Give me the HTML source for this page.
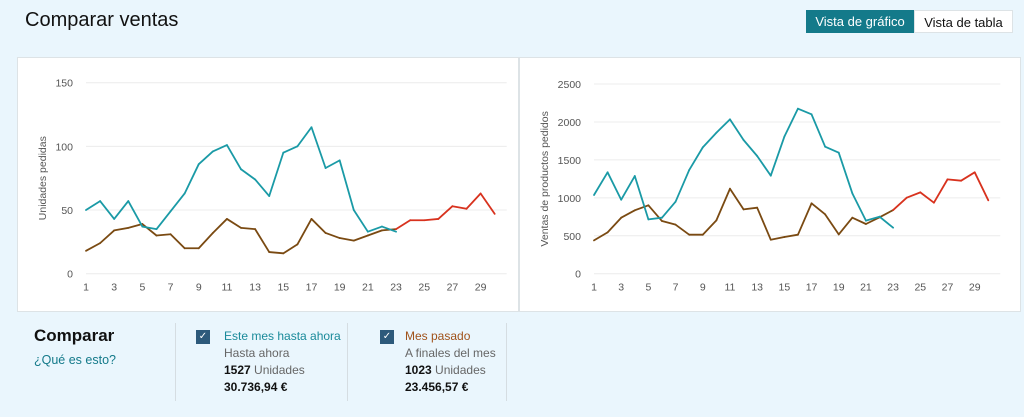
<!DOCTYPE html>
<html><head><meta charset="utf-8"><style>
body{margin:0;width:1024px;height:417px;background:#eaf6fd;font-family:"Liberation Sans",sans-serif;position:relative;overflow:hidden}
.abs{position:absolute}
.btn{position:absolute;top:10px;height:23px;line-height:23px;font-size:13px;text-align:center;box-sizing:border-box}
.panel{position:absolute;top:57px;height:255px;background:#fff;border:1px solid #dde3e6;box-sizing:border-box}
.div{position:absolute;top:323px;height:78px;width:1px;background:#d5dde2}
.cb{position:absolute;width:14px;height:14px;background:#2d5a7b;color:#fff;font-size:10px;line-height:14px;text-align:center}
.t{position:absolute;font-size:12px;color:#666}
.b{color:#111;font-weight:bold}
</style></head><body>
<div class="abs" style="left:25px;top:9px;font-size:20px;color:#111">Comparar ventas</div>
<div class="btn" style="left:806px;width:108px;background:#147a8a;color:#fff">Vista de gráfico</div>
<div class="btn" style="left:914px;width:99px;background:#fff;color:#111;border:1px solid #dde3e6">Vista de tabla</div>
<div class="panel" style="left:17px;width:502px"></div>
<div class="panel" style="left:519px;width:502px"></div>
<svg class="abs" style="left:0;top:0" width="1024" height="417" id="svg"></svg>

<div class="abs" style="left:34px;top:326px;font-size:17px;font-weight:bold;color:#111">Comparar</div>
<div class="abs" style="left:34px;top:353px;font-size:12.5px;color:#147a8a">¿Qué es esto?</div>
<div class="div" style="left:175px"></div>
<div class="div" style="left:347px"></div>
<div class="div" style="left:506px"></div>
<div class="cb" style="left:196px;top:330px">✓</div>
<div class="t" style="left:224px;top:329px;color:#1a8a9a">Este mes hasta ahora</div>
<div class="t" style="left:224px;top:346px">Hasta ahora</div>
<div class="t" style="left:224px;top:363px"><span class="b">1527</span> Unidades</div>
<div class="t b" style="left:224px;top:380px">30.736,94 €</div>
<div class="cb" style="left:380px;top:330px">✓</div>
<div class="t" style="left:405px;top:329px;color:#a0521a">Mes pasado</div>
<div class="t" style="left:405px;top:346px">A finales del mes</div>
<div class="t" style="left:405px;top:363px"><span class="b">1023</span> Unidades</div>
<div class="t b" style="left:405px;top:380px">23.456,57 €</div>
<script>
const days=[];for(let d=1;d<=30;d++)days.push(d);
const unitsThis=[50,57,43,57,37,35,49,63,86,96,101,82,74,61,95,100,115,83,89,50,33,37,33];
const unitsLast=[18,24,34,36,39,30,31,20,20,32,43,36,35,17,16,23,43,32,28,26,30,34,35,42,42,43,53,51,63,47];
const unitsTicks=[0,50,100,150];
const salesThis=[1037,1336,975,1287,716,738,949,1366,1665,1858,2034,1762,1551,1292,1806,2175,2100,1674,1595,1059,699,751,606];
const salesLast=[439,545,738,835,901,694,646,514,514,703,1120,848,870,448,483,514,927,782,518,738,655,743,839,1002,1072,936,1243,1226,1336,967];
const salesTicks=[0,500,1000,1500,2000,2500];
const svg=document.getElementById('svg');const NS='http://www.w3.org/2000/svg';
function mk(t,a){const e=document.createElementNS(NS,t);for(const k in a)e.setAttribute(k,a[k]);svg.appendChild(e);return e;}
function chart(cfg){
 const X=d=>cfg.x0+(d-1)*(cfg.x1-cfg.x0)/29;
 const Y=v=>cfg.y0-v/cfg.max*(cfg.y0-cfg.y1);
 cfg.ticks.forEach(t=>{
  const l=mk('line',{x1:cfg.x0,x2:cfg.x1+12,y1:Y(t),y2:Y(t),stroke:'#ececec','stroke-width':1});
  
  const tx=mk('text',{x:cfg.x0-13,y:Y(t)+4,'text-anchor':'end','font-size':10.5,fill:'#555'});tx.textContent=t;
  
 });
 days.forEach(d=>{if(d%2==1){const tx=mk('text',{x:X(d),y:cfg.y0+17,'text-anchor':'middle','font-size':10.5,fill:'#555'});tx.textContent=d;
  }});
 const yt=mk('text',{transform:`translate(${cfg.tx},${(cfg.y0+cfg.y1)/2}) rotate(-90)`,'text-anchor':'middle','font-size':10.5,fill:'#555'});yt.textContent=cfg.title;
 
 const L=cfg.last,T=cfg.cur;
 for(let i=0;i<L.length-1;i++){
  const above=(T[i]===undefined||L[i]>=T[i])&&(T[i+1]===undefined||L[i+1]>=T[i+1]);
  const s=mk('line',{x1:X(i+1),y1:Y(L[i]),x2:X(i+2),y2:Y(L[i+1]),stroke:above?'#d8321e':'#7a4a12','stroke-width':1.8,'stroke-linecap':'round'});
  
 }
 for(let i=0;i<T.length-1;i++){
  const below=T[i]<=L[i]+1&&T[i+1]<=L[i+1]+1;
  const s=mk('line',{x1:X(i+1),y1:Y(T[i]),x2:X(i+2),y2:Y(T[i+1]),stroke:below?'#5a6ea6':'#1a9aa6','stroke-width':1.8,'stroke-linecap':'round'});
  
 }
}
chart({x0:86,x1:494.7,y0:273.7,y1:82.7,max:150,ticks:unitsTicks,cur:unitsThis,last:unitsLast,title:'Unidades pedidas',tx:46});
chart({x0:594,x1:988.3,y0:273.7,y1:84,max:2500,ticks:salesTicks,cur:salesThis,last:salesLast,title:'Ventas de productos pedidos',tx:548});
</script>
</body></html>
